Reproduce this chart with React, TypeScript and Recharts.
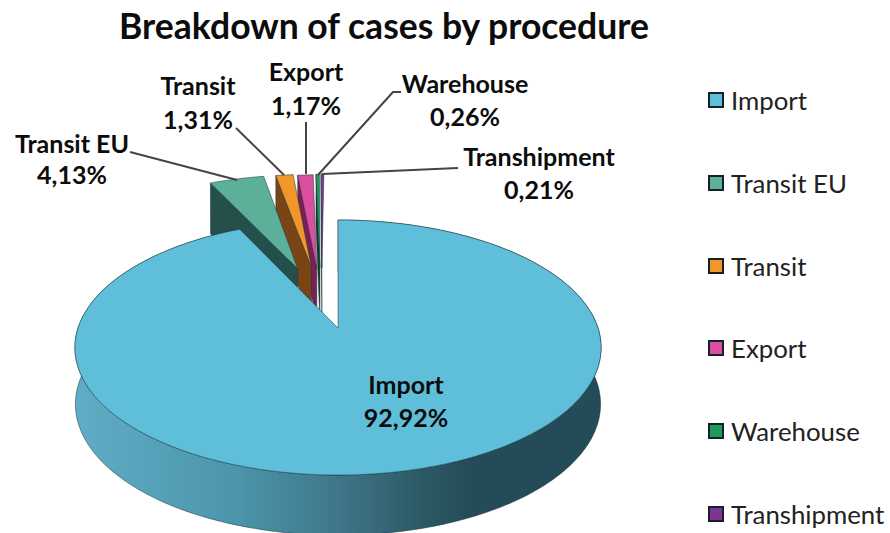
import React from "react";
import { PieChart, Pie, Legend } from "recharts";

const TITLE = "Breakdown of cases by procedure";
const categories = ["Import", "Transit EU", "Transit", "Export", "Warehouse", "Transhipment"];
const shares = [92.92, 4.13, 1.31, 1.17, 0.26, 0.21];

// styles, one per category
const topColors = ["#5FBFDB", "#5CB09A", "#F0962B", "#DC4F9F", "#1F9A5C", "#7E3592"];
const wallColors = ["#2F6374", "#244F4B", "#7A4514", "#7C1F58", "#0B3A22", "#1A0A20"];
const explode: [number, number][] = [
  [0, 0],
  [-0.167, 0.514],
  [-0.11, 0.523],
  [-0.088, 0.516],
  [-0.075, 0.522],
  [-0.067, 0.522],
];
const labelLayout = [
  { x: 406, y1: 384, y2: 417, line: null },
  { x: 72, y1: 143, y2: 174, line: "M130 152L237 180" },
  { x: 198, y1: 85, y2: 119, line: "M236 128L284 175" },
  { x: 306, y1: 71, y2: 105, line: "M306 122L306 174" },
  { x: 465, y1: 83, y2: 116, line: "M401 92L393 92L318 175" },
  { x: 539, y1: 156, y2: 189, line: "M458 168L322 174" },
];

// Pie draws in data order, so the big slice goes last to sit in front.
const order = categories.map((_, i) => categories.length - 1 - i);
const pieData = order.map((i) => ({
  name: categories[i],
  value: shares[i],
  fill: topColors[i],
  idx: i,
}));

const FONT = "Lato, 'Open Sans', sans-serif";
const TILT = 0.479;
const PERSPECTIVE = 0.153;
const WALL = 56;
const INK = "#17323A";

function project(u: number, v: number, cx: number, cy: number, R: number) {
  const d = 1 + PERSPECTIVE * v;
  return { x: cx + (R * u) / d, y: cy - (R * TILT * v) / d };
}
function projectLow(u: number, v: number, cx: number, cy: number, R: number) {
  const p = project(u, v, cx, cy, R);
  return { x: cx + (p.x - cx) * 0.998, y: p.y + WALL / (1 + 0.07 * v) };
}
const toPath = (pts: { x: number; y: number }[]) =>
  "M" + pts.map((p) => `${p.x.toFixed(1)} ${p.y.toFixed(1)}`).join("L") + "Z";

function Slice3D(props: any) {
  const { cx, cy, outerRadius: R, startAngle, endAngle } = props;
  const idx: number = props.idx ?? props.payload?.idx;
  const [a, b] = explode[idx];
  const point = (deg: number, r = 1) => {
    const t = (deg * Math.PI) / 180;
    return { u: a + r * Math.cos(t), v: b + r * Math.sin(t) };
  };
  const lo = Math.min(startAngle, endAngle);
  const hi = Math.max(startAngle, endAngle);
  const steps = Math.max(4, Math.ceil(hi - lo));
  const arc = Array.from({ length: steps + 1 }, (_, i) => point(lo + ((hi - lo) * i) / steps));
  const apex = { u: a, v: b };
  const top = [apex, ...arc].map((p) => project(p.u, p.v, cx, cy, R));

  if (idx === 0) {
    const upper = arc.map((p) => project(p.u, p.v, cx, cy, R));
    const lower = arc.map((p) => projectLow(p.u, p.v, cx, cy, R)).reverse();
    return (
      <g>
        <defs>
          <linearGradient id="importWall" gradientUnits="userSpaceOnUse" x1="75" y1="0" x2="600" y2="0">
            <stop offset="0" stopColor="#5FADC6" />
            <stop offset="0.3" stopColor="#4C96AC" />
            <stop offset="0.5" stopColor="#3F7689" />
            <stop offset="0.66" stopColor="#2C5965" />
            <stop offset="0.75" stopColor="#234C58" />
            <stop offset="1" stopColor="#234C58" />
          </linearGradient>
        </defs>
        <path d={toPath([...upper, ...lower])} fill="url(#importWall)" stroke={INK} strokeWidth={0.5} />
        <path d={toPath(top)} fill={topColors[idx]} stroke={INK} strokeWidth={0.5} />
      </g>
    );
  }
  const outer = arc[arc.length - 1];
  const wall = [
    project(outer.u, outer.v, cx, cy, R),
    project(apex.u, apex.v, cx, cy, R),
    projectLow(apex.u, apex.v, cx, cy, R),
    projectLow(outer.u, outer.v, cx, cy, R),
  ];
  return (
    <g>
      <path d={toPath(wall)} fill={wallColors[idx]} stroke={INK} strokeWidth={0.5} />
      <path d={toPath(top)} fill={topColors[idx]} stroke={INK} strokeWidth={0.5} />
    </g>
  );
}

function SliceLabel(props: any) {
  const idx: number = props.idx ?? props.payload?.idx;
  const l = labelLayout[idx];
  const text = props.value.toFixed(2).replace(".", ",") + "%";
  const style = { fontFamily: FONT, fontWeight: 700, fontSize: 25, fill: "#0c0c0c" };
  return (
    <g>
      {l.line && <path d={l.line} fill="none" stroke="#444" strokeWidth={2} />}
      <text x={l.x} y={l.y1} textAnchor="middle" dominantBaseline="central" style={style}>
        {categories[idx]}
      </text>
      <text x={l.x} y={l.y2} textAnchor="middle" dominantBaseline="central" style={style}>
        {text}
      </text>
    </g>
  );
}

function LegendBox() {
  return (
    <div style={{ fontFamily: FONT, fontSize: 25.8, color: "#222", whiteSpace: "nowrap" }}>
      {categories.map((name, i) => (
        <div key={name} style={{ height: 82.8, display: "flex", alignItems: "center" }}>
          <span
            style={{
              width: 12,
              height: 12,
              marginLeft: 0,
              marginRight: 7,
              background: topColors[i],
              border: "2px solid #16202a",
              display: "inline-block",
            }}
          />
          <span>{name}</span>
        </div>
      ))}
    </div>
  );
}

export default function App() {
  return (
    <div style={{ position: "absolute", left: 0, top: 0, width: 890, height: 533, overflow: "hidden", background: "#fff" }}>
      <div
        style={{
          position: "absolute",
          left: 0,
          top: 5,
          width: 768,
          textAlign: "center",
          fontFamily: FONT,
          fontWeight: 700,
          fontSize: 35.5,
          lineHeight: "42px",
          color: "#0c0c0c",
          whiteSpace: "nowrap",
        }}
      >
        {TITLE}
      </div>
      <PieChart width={890} height={533} margin={{ top: 0, right: 0, bottom: 0, left: 0 }} style={{ position: "absolute", left: 0, top: 0 }}>
        <Pie
          data={pieData}
          dataKey="value"
          nameKey="name"
          cx={338}
          cy={328}
          innerRadius={0}
          outerRadius={260}
          startAngle={90}
          endAngle={450}
          paddingAngle={0}
          isAnimationActive={false}
          shape={Slice3D}
          label={SliceLabel}
          labelLine={false}
        />
        <Legend
          content={LegendBox}
          wrapperStyle={{ position: "absolute", left: 708, top: 58.6, width: 182, bottom: "auto", right: "auto" }}
        />
      </PieChart>
    </div>
  );
}
